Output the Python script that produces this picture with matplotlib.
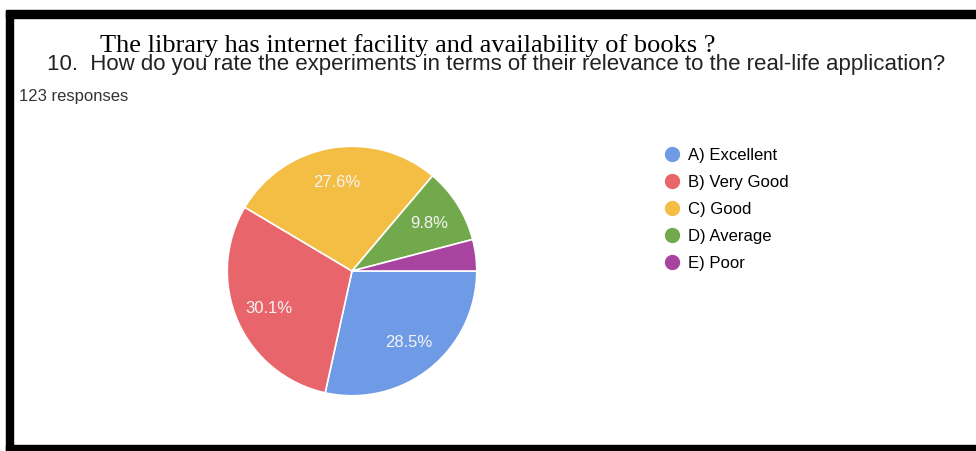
import matplotlib.pyplot as plt
from matplotlib.lines import Line2D
from matplotlib.patches import Rectangle

# data
categories = ["A) Excellent", "B) Very Good", "C) Good", "D) Average", "E) Poor"]
counts = [35, 37, 34, 12, 5]
colors = ["#6f9be6", "#e8656b", "#f4bd43", "#72a94c", "#a8449f"]

W, H = 976, 452
fig = plt.figure(figsize=(W / 100, H / 100), dpi=100)
fig.patch.set_facecolor("white")

# scanned frame
fig.patches.append(Rectangle((6 / W, 0), 7 / W, 1 - 12 / H, transform=fig.transFigure,
                             color="black", zorder=5))
fig.patches.append(Rectangle((6 / W, 1 - 19 / H), 1, 8 / H, transform=fig.transFigure,
                             color="black", zorder=5))
fig.patches.append(Rectangle((6 / W, 0), 1, 6 / H, transform=fig.transFigure,
                             color="black", zorder=5))

# pie
cx, cy, r = 352, 272, 126
ax = fig.add_axes([(cx - r) / W, (H - cy - r) / H, 2 * r / W, 2 * r / H])


def pct(p):
    return "%.1f%%" % p if p > 5 else ""


wedges, _, autotexts = ax.pie(counts, colors=colors, startangle=0, counterclock=False,
                              autopct=pct, pctdistance=0.73,
                              wedgeprops=dict(edgecolor="white", linewidth=1.2),
                              textprops=dict(color="#f4f4f4", fontsize=12,
                                             family="Liberation Sans"))
ax.set_xlim(-1.01, 1.01)
ax.set_ylim(-1.01, 1.01)
ax.set_aspect("equal")

# legend
handles = [Line2D([], [], marker="o", linestyle="none", markersize=10,
                  markerfacecolor=c, markeredgecolor=c) for c in colors]
fig.legend(handles, categories, loc="upper left", bbox_to_anchor=(655 / W, 1 - 140 / H),
           frameon=False, prop=dict(family="Liberation Sans", size=12),
           handletextpad=0.45, labelspacing=0.72, handlelength=1.0, borderpad=0)

# titles
fig.text(47 / W, 1 - 70 / H,
         "10.  How do you rate the experiments in terms of their relevance to the real-life application?",
         family="Liberation Sans", fontsize=16, color="#222222", va="baseline", ha="left")
fig.text(100 / W, 1 - 52 / H, "The library has internet facility and availability of books ?",
         family="Liberation Serif", fontsize=19, color="black", va="baseline", ha="left")
fig.text(19 / W, 1 - 97 / H, "123 responses", family="Liberation Sans", fontsize=12,
         color="#333333", va="center", ha="left")

fig.savefig("out.png", dpi=100)
